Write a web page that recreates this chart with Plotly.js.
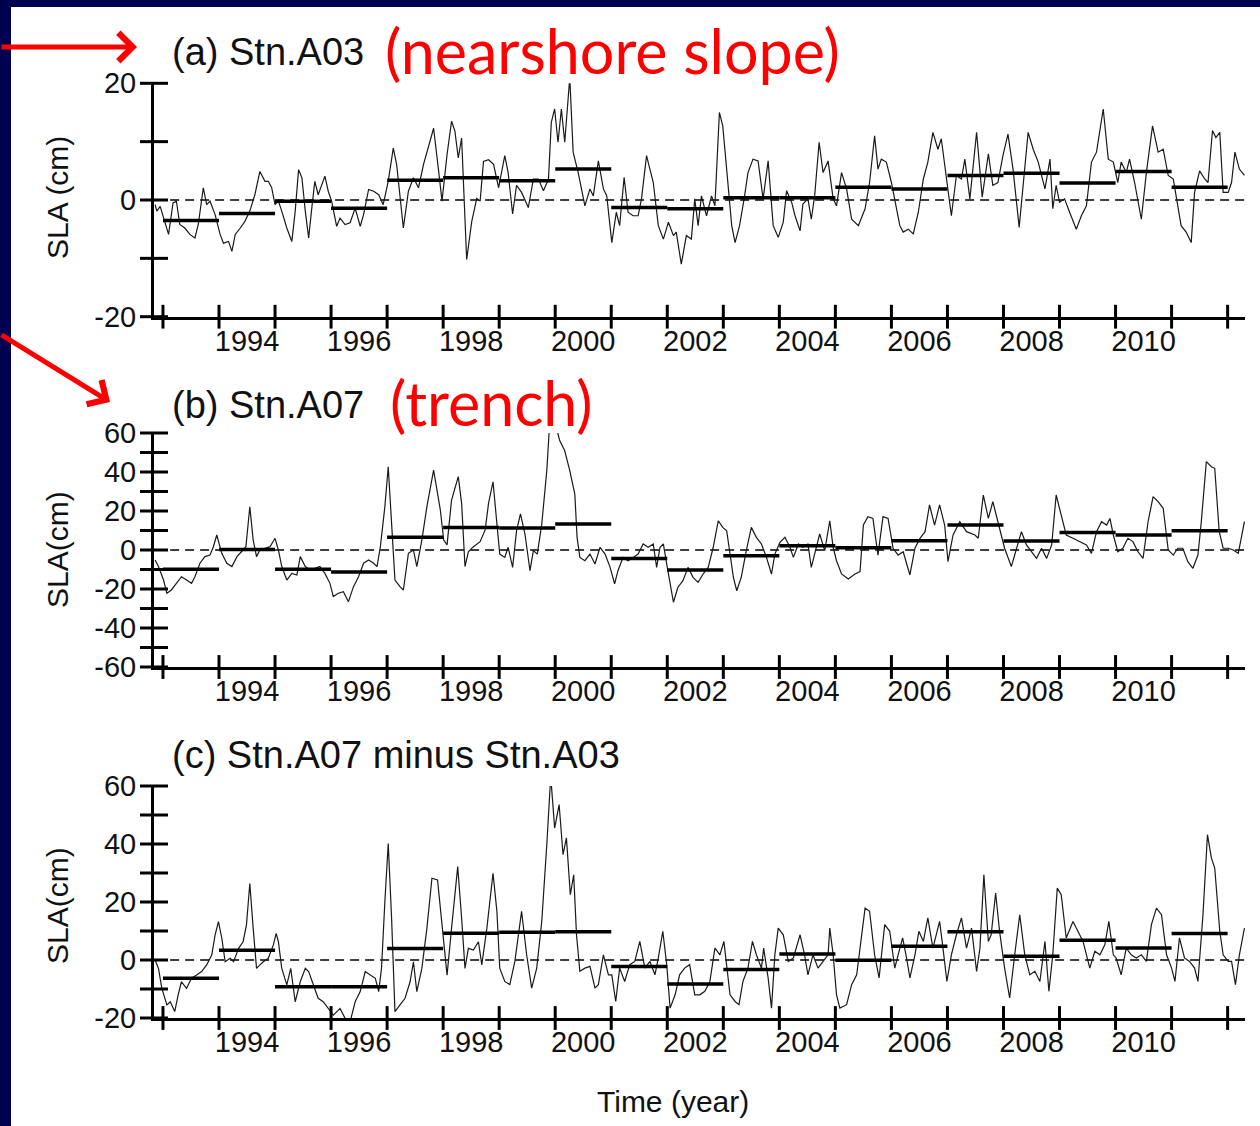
<!DOCTYPE html>
<html>
<head>
<meta charset="utf-8">
<script src="https://cdn.plot.ly/plotly-3.0.1.min.js"></script>
<style>
  html, body { margin: 0; padding: 0; background: #000050; }
  #chart { width: 1260px; height: 1126px; }
</style>
</head>
<body>
<div id="chart"></div>
<script>
// ---------------- DATA ----------------
// (a) Stn.A03 SLA (cm)
const tA = [1992.86,1992.89,1992.95,1993.01,1993.10,1993.18,1993.24,1993.30,1993.39,1993.48,1993.57,1993.63,1993.72,1993.78,1993.84,1993.93,
1994.02,1994.08,1994.17,1994.23,1994.29,1994.38,1994.46,1994.55,1994.64,1994.73,1994.82,1994.88,1994.94,
1995.00,1995.06,1995.12,1995.21,1995.30,1995.36,1995.42,1995.48,1995.54,1995.60,1995.65,1995.71,1995.77,1995.83,1995.89,1995.95,
1996.01,1996.10,1996.16,1996.25,1996.34,1996.43,1996.52,1996.58,1996.67,1996.76,1996.85,1996.93,
1997.02,1997.11,1997.17,1997.29,1997.38,1997.47,1997.56,1997.65,1997.83,1997.92,1997.98,
1998.07,1998.15,1998.21,1998.27,1998.33,1998.39,1998.42,1998.51,1998.60,1998.66,1998.72,1998.81,1998.90,1998.99,
1999.01,1999.10,1999.16,1999.24,1999.31,1999.40,1999.52,1999.61,1999.70,1999.79,1999.88,1999.93,1999.99,
2000.05,2000.11,2000.17,2000.26,2000.32,2000.41,2000.53,2000.62,2000.68,2000.77,2000.86,2000.92,
2001.01,2001.09,2001.15,2001.23,2001.30,2001.39,2001.48,2001.54,2001.63,2001.75,2001.84,2001.93,
2002.02,2002.11,2002.16,2002.25,2002.34,2002.43,2002.49,2002.55,2002.61,2002.70,2002.79,2002.85,2002.93,2002.99,
2003.06,2003.15,2003.21,2003.29,2003.38,2003.44,2003.53,2003.62,2003.71,2003.80,2003.89,2003.98,
2004.07,2004.13,2004.22,2004.28,2004.37,2004.42,2004.51,2004.57,2004.63,2004.71,2004.78,2004.87,2004.96,
2005.02,2005.11,2005.20,2005.29,2005.41,2005.53,2005.61,2005.70,2005.76,2005.82,2005.91,
2006.00,2006.06,2006.15,2006.21,2006.30,2006.39,2006.48,2006.57,2006.65,2006.74,2006.83,2006.89,2006.98,
2007.07,2007.16,2007.25,2007.31,2007.40,2007.52,2007.62,2007.73,2007.81,2007.90,2007.99,
2008.08,2008.17,2008.28,2008.35,2008.44,2008.53,2008.62,2008.74,2008.83,2008.88,2008.94,
2009.00,2009.09,2009.18,2009.30,2009.39,2009.48,2009.57,2009.66,2009.78,2009.87,2009.96,
2010.04,2010.10,2010.19,2010.25,2010.34,2010.46,2010.55,2010.66,2010.76,2010.85,2010.94,
2011.03,2011.11,2011.17,2011.26,2011.35,2011.41,2011.50,2011.59,2011.65,2011.73,2011.79,2011.86,2011.92,
2012.01,2012.07,2012.13,2012.21,2012.30];
const vA = [-0.8,-1.9,-1.1,-3.1,-5.9,-0.5,-0.2,-4.2,-4.8,-5.9,-6.5,-4.2,2.1,-0.8,-0.2,-2.5,
-5.9,-7.4,-7.1,-8.8,-5.9,-4.8,-3.7,-1.9,0.9,4.9,3.2,3.2,2.1,
-0.8,-0.2,-1.9,-4.8,-7.1,-1.9,5.2,3.8,-1.9,-6.5,-1.9,3.2,0.9,2.6,4.1,1.5,
-0.2,-4.5,-3.1,-4.2,-3.9,-1.4,-4.5,-2.5,1.8,1.5,0.9,-0.8,
3.2,8.9,6.1,-4.8,1.5,3.8,2.1,6.1,12.3,4.9,-0.2,
7.8,13.5,11.8,7.2,10.6,-4.8,-10.2,-3.7,0.3,-0.2,6.6,6.9,6.1,2.1,
3.0,7.6,4.7,-2.4,2.5,1.3,-1.3,3.6,3.6,1.6,3.6,13.3,15.6,
9.9,15.6,9.9,21.0,8.2,4.7,-1.0,1.9,0.7,6.7,1.9,0.7,
-7.3,-2.1,-4.4,3.9,-2.1,-2.7,-2.7,0.2,7.6,3.0,-4.4,-6.7,
-3.8,-6.1,-5.5,-11.0,-6.1,-6.7,0.2,-4.4,0.7,-2.7,0.7,-1.0,15.0,12.7,
5.3,-4.4,-7.3,-4.4,0.7,4.7,7.0,6.7,0.2,6.7,-4.4,-6.4,
-3.8,1.6,-0.4,-2.7,-5.3,-0.7,0.2,-3.3,0.7,9.9,4.7,6.7,0.2,
-1.0,4.7,1.9,-3.3,-4.4,-1.5,3.0,11.0,5.3,7.0,6.5,
3.0,0.2,-4.4,-5.5,-5.0,-5.8,-2.1,3.6,6.5,11.6,8.7,10.5,4.2,
-2.7,4.2,3.6,7.0,0.2,11.6,0.5,7.9,2.5,3.0,7.6,
11.3,5.3,-4.7,2.5,11.6,8.7,6.5,1.9,7.0,-1.5,2.5,
-0.4,0.2,-2.1,-5.0,-2.7,-1.0,6.5,8.2,15.6,7.0,6.5,
3.0,6.5,4.7,7.0,3.0,-3.3,4.7,12.7,8.2,8.7,4.2,
3.6,-1.0,-4.4,-5.5,-7.3,1.3,5.0,3.6,3.0,11.9,10.7,11.6,1.3,
1.3,3.0,8.2,5.3,4.2];

// (b) Stn.A07 SLA (cm)
const tB = [1992.86,1992.92,1993.01,1993.07,1993.15,1993.24,1993.33,1993.42,1993.51,1993.57,1993.66,1993.75,1993.84,1993.90,1993.96,
1994.05,1994.14,1994.23,1994.32,1994.40,1994.48,1994.55,1994.61,1994.67,1994.73,1994.82,1994.91,
1995.00,1995.06,1995.12,1995.21,1995.30,1995.39,1995.45,1995.54,1995.63,1995.71,1995.80,1995.89,1995.98,
1996.04,1996.13,1996.22,1996.31,1996.40,1996.49,1996.58,1996.67,1996.76,1996.82,1996.88,1996.96,
1997.02,1997.08,1997.14,1997.23,1997.29,1997.38,1997.47,1997.53,1997.62,1997.71,1997.83,1997.95,
1998.01,1998.07,1998.15,1998.27,1998.33,1998.39,1998.45,1998.54,1998.66,1998.75,1998.81,1998.89,1998.96,
1999.01,1999.10,1999.16,1999.24,1999.31,1999.38,1999.46,1999.55,1999.61,1999.68,1999.76,1999.85,1999.90,1999.96,
2000.02,2000.08,2000.17,2000.26,2000.35,2000.39,2000.44,2000.53,2000.62,2000.71,2000.80,2000.89,2000.98,
2001.06,2001.12,2001.21,2001.30,2001.39,2001.48,2001.57,2001.66,2001.75,2001.81,2001.87,2001.93,2001.99,
2002.05,2002.11,2002.19,2002.28,2002.37,2002.46,2002.55,2002.64,2002.73,2002.82,2002.91,2002.99,
2003.06,2003.12,2003.18,2003.24,2003.32,2003.41,2003.50,2003.59,2003.68,2003.77,2003.86,2003.92,
2004.01,2004.10,2004.19,2004.25,2004.34,2004.42,2004.51,2004.57,2004.66,2004.72,2004.81,2004.90,2004.96,
2005.02,2005.11,2005.23,2005.35,2005.44,2005.50,2005.58,2005.67,2005.76,2005.85,2005.94,
2006.03,2006.12,2006.21,2006.33,2006.42,2006.51,2006.60,2006.68,2006.77,2006.86,2006.95,
2007.01,2007.10,2007.22,2007.34,2007.49,2007.55,2007.64,2007.73,2007.81,2007.90,
2008.02,2008.14,2008.23,2008.32,2008.41,2008.50,2008.59,2008.68,2008.77,2008.86,2008.94,
2009.03,2009.12,2009.24,2009.36,2009.48,2009.57,2009.66,2009.75,2009.84,2009.90,2009.96,
2010.04,2010.13,2010.22,2010.31,2010.40,2010.49,2010.58,2010.67,2010.76,2010.85,2010.94,
2011.03,2011.11,2011.20,2011.29,2011.38,2011.47,2011.53,2011.62,2011.71,2011.77,2011.85,2011.92,
2012.01,2012.10,2012.19,2012.30];
const vB = [-5.1,-8.5,-15.4,-22.2,-20.5,-17.1,-13.7,-15.4,-17.1,-13.7,-6.8,-3.4,-2.6,1.7,7.7,
-1.7,-6.8,-8.5,-3.4,-0.9,1.7,22.2,5.1,-3.4,0,0.9,1.7,
6.0,0,-8.5,-15.4,-12.0,-12.8,-3.4,-8.5,-10.3,-9.4,-8.5,-12.0,-17.1,
-23.9,-22.2,-21.4,-26.5,-18.8,-13.7,-6.8,-5.1,-6.8,-8.5,1.7,22.2,
42.7,15.4,-15.4,-18.8,-20.5,-1.7,0,-8.5,5.1,22.2,41.0,20.5,
5.1,2.6,25.6,37.6,23.9,-8.5,-0.9,1.7,4.3,10.3,23.9,35.0,15.4,
-2.1,-3.8,1.4,-8.9,9.9,18.5,8.2,-10.6,-0.3,-2.1,13.3,40.7,64.6,61.2,
62.9,56.1,50.9,40.7,28.7,6.5,-3.8,-5.5,-2.1,-7.2,1.4,-2.1,-8.9,
-17.4,-10.6,-3.8,-5.5,-3.8,-2.1,3.1,1.4,3.1,-8.9,1.4,3.1,-7.2,
-17.4,-26.8,-19.1,-15.7,-8.9,-14.0,-16.6,-12.3,-8.9,1.4,15.0,11.6,
9.9,-2.1,-14.0,-20.9,-14.0,-0.3,11.6,6.5,3.1,-3.8,-12.3,-2.1,
3.9,6.5,1.4,-3.8,3.1,1.4,3.1,-8.9,1.4,8.2,-0.3,15.0,1.4,
-5.5,-12.3,-14.9,-12.3,-11.1,12.8,17.1,16.2,-2.6,17.1,16.2,
0.9,-2.6,-0.9,-12.8,0.9,6.0,9.4,23.1,12.8,23.1,12.8,
-6.0,7.7,14.5,9.4,7.7,6.0,28.2,16.2,24.8,14.5,
0.9,-8.5,0.9,9.4,2.6,-0.9,-4.3,0.9,-4.3,2.6,28.2,
17.9,7.7,6.0,4.3,2.6,-1.7,9.4,14.5,12.8,16.2,7.7,
-0.9,0.9,6.0,4.3,-0.9,-4.3,14.5,27.4,24.8,21.4,0,
-2.6,0.9,0.9,-6.0,-9.4,-2.6,14.5,45.3,42.7,41.9,9.4,0.9,
0.9,0,-1.7,14.5];

// (c) Stn.A07 minus Stn.A03 SLA (cm)
const tC = [1992.86,1992.92,1992.98,1993.07,1993.13,1993.21,1993.27,1993.33,1993.42,1993.51,1993.60,1993.69,1993.78,1993.87,1993.93,1993.99,
1994.05,1994.11,1994.20,1994.26,1994.35,1994.43,1994.49,1994.55,1994.61,1994.67,1994.73,1994.79,1994.88,1994.97,
1995.02,1995.06,1995.12,1995.21,1995.28,1995.36,1995.45,1995.54,1995.60,1995.68,1995.77,1995.86,1995.95,
1996.04,1996.16,1996.25,1996.34,1996.43,1996.52,1996.61,1996.70,1996.79,1996.85,1996.90,1996.96,
1997.02,1997.08,1997.14,1997.23,1997.32,1997.41,1997.47,1997.53,1997.62,1997.71,1997.80,1997.90,1997.98,
1998.07,1998.15,1998.26,1998.33,1998.39,1998.45,1998.54,1998.63,1998.69,1998.78,1998.89,1998.96,
1999.01,1999.10,1999.19,1999.28,1999.40,1999.49,1999.58,1999.67,1999.76,1999.85,1999.92,1999.99,
2000.07,2000.14,2000.20,2000.27,2000.33,2000.38,2000.44,2000.53,2000.62,2000.71,2000.77,2000.86,2000.95,
2001.01,2001.08,2001.15,2001.24,2001.33,2001.42,2001.51,2001.60,2001.69,2001.78,2001.84,2001.92,2001.99,
2002.05,2002.14,2002.22,2002.31,2002.40,2002.49,2002.58,2002.67,2002.76,2002.85,2002.94,
2003.01,2003.12,2003.21,2003.28,2003.35,2003.44,2003.52,2003.59,2003.68,2003.72,2003.80,2003.86,2003.92,2003.98,
2004.07,2004.16,2004.25,2004.37,2004.45,2004.51,2004.60,2004.69,2004.78,2004.87,2004.90,2004.96,
2005.02,2005.08,2005.20,2005.29,2005.38,2005.44,2005.53,2005.61,2005.70,2005.78,2005.88,2005.97,
2006.06,2006.12,2006.20,2006.27,2006.33,2006.42,2006.49,2006.57,2006.65,2006.74,2006.86,2006.92,2006.99,
2007.07,2007.16,2007.25,2007.34,2007.43,2007.52,2007.58,2007.65,2007.73,2007.78,2007.86,2007.93,
2008.02,2008.11,2008.20,2008.29,2008.38,2008.47,2008.56,2008.65,2008.74,2008.81,2008.88,2008.96,
2009.03,2009.12,2009.24,2009.33,2009.42,2009.54,2009.63,2009.72,2009.81,2009.88,2009.96,
2010.01,2010.10,2010.19,2010.28,2010.37,2010.46,2010.55,2010.64,2010.73,2010.82,2010.91,
2011.00,2011.06,2011.14,2011.23,2011.32,2011.41,2011.47,2011.56,2011.64,2011.71,2011.77,2011.86,2011.92,
2012.01,2012.07,2012.14,2012.21,2012.30];
const vC = [0,-2.9,-9.8,-15.5,-14.4,-17.8,-12.1,-7.5,-9.8,-6.3,-5.2,-4.0,-1.7,1.7,8.6,13.2,
7.5,-0.6,0.6,-0.6,4.0,6.3,12.1,26.4,10.9,-2.9,-1.7,-0.6,0.6,5.2,
9.2,6.3,-2.9,-8.6,-2.9,-14.4,-7.5,-2.9,-4.0,-8.6,-13.2,-14.4,-16.7,
-19.0,-16.7,-20.1,-21.3,-14.4,-10.9,-4.0,-5.2,-6.3,-10.9,-2.9,20.1,
40.2,14.4,-17.8,-15.5,-13.2,-7.5,-0.6,-10.9,-2.9,10.9,28.2,27.6,10.9,
-5.2,10.9,32.2,14.4,-2.9,4.0,3.4,6.3,-1.7,10.9,29.9,16.7,
-2.8,-7.4,-8.5,-0.5,16.8,1.8,-9.7,-2.8,13.3,39.8,63.3,45.5,
53.6,36.3,42.1,22.5,29.4,8.7,-3.9,-2.8,-2.2,-9.7,-8.5,1.8,-5.1,
-5.1,-14.3,-2.8,-7.4,-1.6,-0.5,6.4,-2.8,-0.5,-5.1,0.7,9.9,-1.6,
-16.6,-12.0,-5.1,-2.8,-1.6,-12.0,-12.0,-10.8,-7.4,4.1,1.8,
6.4,-12.0,-14.3,-15.4,-7.4,-2.8,6.4,1.8,-2.8,4.1,-6.2,-16.6,1.8,11.0,
8.7,-0.5,0.7,8.7,1.8,-5.1,1.8,-2.8,-0.5,1.8,11.0,1.8,
-12.0,-16.6,-15.4,-8.5,-5.1,4.1,17.9,16.8,1.8,-6.2,12.2,9.9,
-2.8,1.8,7.6,0.7,-6.2,1.8,9.9,6.4,14.5,4.1,13.3,4.1,-7.4,
1.8,8.7,14.5,4.1,11.0,-3.9,4.1,29.4,6.4,8.7,23.1,9.9,
-2.8,-13.1,1.8,15.6,1.8,-5.1,-3.9,-7.4,6.4,-10.8,1.8,24.8,
22.5,7.6,13.3,9.9,6.4,-2.8,3.0,1.8,5.3,13.3,1.8,
0.7,-5.1,4.1,1.8,0.7,1.8,-0.5,12.2,17.9,15.6,1.8,
-2.8,-7.4,7.6,0.7,-0.5,-2.8,-7.4,15.6,43.2,35.2,31.7,9.9,1.8,
-0.5,-0.5,-8.5,1.8,11.0];

// Annual means (horizontal bars), one value per year starting at meanYears[i]
const meanYears = [1993,1994,1995,1996,1997,1998,1999,2000,2001,2002,2003,2004,2005,2006,2007,2008,2009,2010,2011];
const meanA = [-3.5,-2.3,-0.2,-1.4,3.4,3.8,3.3,5.3,-1.3,-1.5,0.4,0.4,2.2,1.9,4.2,4.6,2.9,4.9,2.2];
const meanB = [-9.9,0.3,-9.9,-11.3,6.5,11.6,11.3,13.3,-4.3,-10.3,-2.9,2.2,1.2,4.8,12.8,4.6,9.0,7.7,9.9];
const meanC = [-6.3,3.4,-9.2,-9.2,4.0,9.2,9.6,9.7,-2.2,-8.3,-3.3,2.1,-0.1,4.7,9.7,1.3,6.8,4.1,9.1];

// Tick definitions
const xTickYears = [1993,1994,1995,1996,1997,1998,1999,2000,2001,2002,2003,2004,2005,2006,2007,2008,2009,2010,2011,2012];
const xLabelPos = [1994.5,1996.5,1998.5,2000.5,2002.5,2004.5,2006.5,2008.5,2010.5];
const xLabelText = ['1994','1996','1998','2000','2002','2004','2006','2008','2010'];
const yTicksA = [-20,-10,0,10,20];
const yLabelsA = [-20,0,20];
const yTicksB = [-60,-50,-40,-30,-20,-10,0,10,20,30,40,50,60];
const yLabelsB = [-60,-40,-20,0,20,40,60];
const yTicksC = [-20,-10,0,10,20,30,40,50,60];
const yLabelsC = [-20,0,20,40,60];
const xRange = [1992.84, 2012.31];
const yRangeA = [-20, 20], yRangeB = [-60, 60], yRangeC = [-20, 60];

// ---------------- LAYOUT HELPERS ----------------
const W = 1260, H = 1126;
const px = v => v / W;
const py = v => 1 - v / H;
const FONT = 'Liberation Sans, Arial, sans-serif';
const INK = '#111111';

function barsXY(years, means) {
  const x = [], y = [];
  years.forEach((yr, i) => { x.push(yr, yr + 1, null); y.push(means[i], means[i], null); });
  return {x, y};
}

const traces = [];
const panels = [
  {t: tA, v: vA, m: meanA, xa: 'x',  ya: 'y',  yr: yRangeA, yt: yTicksA},
  {t: tB, v: vB, m: meanB, xa: 'x2', ya: 'y2', yr: yRangeB, yt: yTicksB},
  {t: tC, v: vC, m: meanC, xa: 'x3', ya: 'y3', yr: yRangeC, yt: yTicksC}
];
panels.forEach(p => {
  traces.push({x: [p.t[0], p.t[p.t.length - 1]], y: [0, 0], xaxis: p.xa, yaxis: p.ya,
    mode: 'lines', line: {color: '#000', width: 1.3, dash: '9px,6px'}, hoverinfo: 'skip'});
  traces.push({x: p.t, y: p.v, xaxis: p.xa, yaxis: p.ya, mode: 'lines',
    line: {color: '#1a1a1a', width: 1.2}, hoverinfo: 'skip'});
  const b = barsXY(meanYears, p.m);
  traces.push({x: b.x, y: b.y, xaxis: p.xa, yaxis: p.ya, mode: 'lines',
    line: {color: '#000', width: 3.5}, connectgaps: false, hoverinfo: 'skip'});
  traces.push({x: xTickYears, y: xTickYears.map(() => p.yr[0]), xaxis: p.xa, yaxis: p.ya,
    mode: 'markers', cliponaxis: false, hoverinfo: 'skip',
    marker: {symbol: 'line-ns', size: 17, color: '#000', line: {color: '#000', width: 3}}});
  traces.push({x: p.yt.map(() => xRange[0]), y: p.yt, xaxis: p.xa, yaxis: p.ya,
    mode: 'markers', cliponaxis: false, hoverinfo: 'skip',
    marker: {symbol: 'line-ew', size: 20, color: '#000', line: {color: '#000', width: 3}}});
});

function xAxis(anchor) {
  return {domain: [px(154), px(1245)], anchor: anchor, range: xRange,
    tickmode: 'array', tickvals: xLabelPos, ticktext: xLabelText, ticks: '',
    showline: true, linewidth: 3, linecolor: '#000', showgrid: false, zeroline: false,
    ticklabelstandoff: -4, tickfont: {family: FONT, size: 29, color: INK}, fixedrange: true};
}
function yAxis(anchor, top, bottom, range, labels) {
  return {domain: [py(bottom), py(top)], anchor: anchor, range: range,
    tickmode: 'array', tickvals: labels, ticktext: labels.map(String), ticks: '',
    showline: true, linewidth: 3, linecolor: '#000', showgrid: false, zeroline: false,
    ticklabelstandoff: 9, tickfont: {family: FONT, size: 29, color: INK}, fixedrange: true};
}

const ann = [];
function label(text, x, y, size, opts) {
  ann.push(Object.assign({text: text, xref: 'paper', yref: 'paper', x: px(x), y: py(y),
    showarrow: false, xanchor: 'left', yanchor: 'middle',
    font: {family: FONT, size: size, color: INK}}, opts || {}));
}
label('(a) Stn.A03', 170, 52, 38);
label('(b) Stn.A07', 170, 405, 38);
label('(c) Stn.A07 minus Stn.A03', 170, 755, 38);
label('SLA (cm)', 57, 198, 30, {xanchor: 'center', textangle: -90});
label('SLA(cm)', 57, 550, 30, {xanchor: 'center', textangle: -90});
label('SLA(cm)', 57, 906, 30, {xanchor: 'center', textangle: -90});
label('Time (year)', 673, 1101, 30, {xanchor: 'center'});
const RED_FONT = {family: 'Lato, Carlito, sans-serif', size: 61, color: '#ff0000'};
label('(nearshore slope)', 383, 50, 61, {font: RED_FONT});
label('(trench)', 388, 403, 61, {font: RED_FONT});
ann.push({text: '', xref: 'paper', yref: 'paper', x: px(137), y: py(47), ax: -142, ay: 0,
  showarrow: true, arrowhead: 4, arrowsize: 1.1, arrowwidth: 5, arrowcolor: '#ff0000', standoff: 0});
ann.push({text: '', xref: 'paper', yref: 'paper', x: px(110), y: py(402), ax: -116, ay: -68,
  showarrow: true, arrowhead: 4, arrowsize: 1.1, arrowwidth: 5, arrowcolor: '#ff0000', standoff: 0});

const layout = {
  width: W, height: H,
  margin: {l: 0, r: 0, t: 0, b: 0},
  paper_bgcolor: '#000050', plot_bgcolor: '#ffffff',
  showlegend: false,
  shapes: [{type: 'rect', xref: 'paper', yref: 'paper', x0: px(11), x1: 1, y0: 0, y1: py(7),
    fillcolor: '#ffffff', line: {width: 0}, layer: 'below'}],
  xaxis: xAxis('y'), yaxis: yAxis('x', 83.3, 316.7, yRangeA, yLabelsA),
  xaxis2: xAxis('y2'), yaxis2: yAxis('x2', 433, 667, yRangeB, yLabelsB),
  xaxis3: xAxis('y3'), yaxis3: yAxis('x3', 786, 1018, yRangeC, yLabelsC),
  annotations: ann
};

Plotly.newPlot('chart', traces, layout, {displayModeBar: false, staticPlot: true});
</script>
</body>
</html>
